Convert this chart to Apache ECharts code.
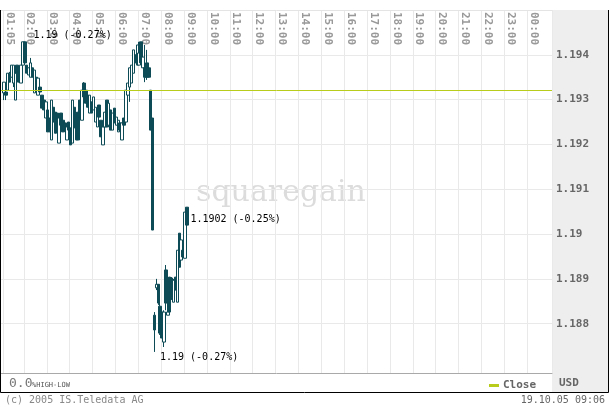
<!DOCTYPE html>
<html><head><meta charset="utf-8">
<script src="https://cdn.jsdelivr.net/npm/echarts@6/dist/echarts.min.js"></script>
<style>html,body{margin:0;padding:0;background:#fff}#c{width:610px;height:407px}</style>
</head><body><div id="c"></div>
<script>
// hour tick labels shown on the top axis
const hourLabels = ['01:05','02:00','03:00','04:00','05:00','06:00','07:00','08:00','09:00','10:00','11:00','12:00',
  '13:00','14:00','15:00','16:00','17:00','18:00','19:00','20:00','21:00','22:00','23:00','00:00'];
// price ticks on the right axis
const yTicks = [1.188, 1.189, 1.19, 1.191, 1.192, 1.193, 1.194];
const yMin = 1.1869, yMax = 1.195;
const prevClose = 1.1932;
// 5-minute candles [open, close, low, high] from 01:05 to 09:05
const candles = [
[1.19315,1.19339,1.19299,1.19339],
[1.19317,1.19310,1.19299,1.19317],
[1.19321,1.19359,1.19321,1.19359],
[1.19359,1.19339,1.19339,1.19362],
[1.19350,1.19377,1.19350,1.19377],
[1.19337,1.19377,1.19328,1.19377],
[1.19299,1.19359,1.19299,1.19359],
[1.19377,1.19359,1.19359,1.19377],
[1.19362,1.19339,1.19339,1.19362],
[1.19337,1.19377,1.19337,1.19377],
[1.19377,1.19429,1.19377,1.19429],
[1.19429,1.19382,1.19382,1.19429],
[1.19377,1.19359,1.19359,1.19377],
[1.19355,1.19371,1.19355,1.19371],
[1.19350,1.19382,1.19350,1.19393],
[1.19371,1.19350,1.19350,1.19371],
[1.19315,1.19366,1.19315,1.19366],
[1.19350,1.19328,1.19328,1.19350],
[1.19310,1.19348,1.19310,1.19348],
[1.19328,1.19317,1.19317,1.19328],
[1.19310,1.19281,1.19281,1.19310],
[1.19299,1.19277,1.19277,1.19299],
[1.19259,1.19295,1.19259,1.19295],
[1.19277,1.19228,1.19228,1.19277],
[1.19259,1.19228,1.19228,1.19259],
[1.19210,1.19299,1.19210,1.19299],
[1.19283,1.19250,1.19250,1.19283],
[1.19272,1.19225,1.19225,1.19272],
[1.19270,1.19232,1.19232,1.19270],
[1.19203,1.19259,1.19203,1.19259],
[1.19270,1.19243,1.19243,1.19270],
[1.19254,1.19228,1.19228,1.19254],
[1.19248,1.19232,1.19232,1.19248],
[1.19210,1.19239,1.19210,1.19239],
[1.19250,1.19232,1.19232,1.19250],
[1.19237,1.19199,1.19199,1.19237],
[1.19203,1.19299,1.19203,1.19299],
[1.19283,1.19237,1.19237,1.19283],
[1.19210,1.19270,1.19210,1.19270],
[1.19272,1.19210,1.19210,1.19272],
[1.19299,1.19261,1.19261,1.19299],
[1.19254,1.19321,1.19254,1.19321],
[1.19337,1.19306,1.19306,1.19339],
[1.19321,1.19292,1.19292,1.19321],
[1.19310,1.19283,1.19283,1.19310],
[1.19270,1.19310,1.19270,1.19310],
[1.19295,1.19270,1.19270,1.19295],
[1.19277,1.19306,1.19277,1.19306],
[1.19250,1.19283,1.19250,1.19283],
[1.19239,1.19277,1.19239,1.19277],
[1.19288,1.19261,1.19261,1.19288],
[1.19254,1.19217,1.19217,1.19254],
[1.19199,1.19239,1.19199,1.19239],
[1.19239,1.19272,1.19239,1.19272],
[1.19299,1.19239,1.19239,1.19299],
[1.19243,1.19292,1.19243,1.19292],
[1.19277,1.19232,1.19232,1.19277],
[1.19232,1.19270,1.19232,1.19270],
[1.19281,1.19248,1.19248,1.19281],
[1.19243,1.19261,1.19243,1.19261],
[1.19228,1.19254,1.19228,1.19254],
[1.19248,1.19232,1.19232,1.19248],
[1.19210,1.19248,1.19210,1.19248],
[1.19259,1.19243,1.19243,1.19259],
[1.19250,1.19321,1.19250,1.19321],
[1.19310,1.19337,1.19299,1.19337],
[1.19328,1.19371,1.19295,1.19371],
[1.19337,1.19377,1.19337,1.19377],
[1.19359,1.19411,1.19359,1.19411],
[1.19400,1.19382,1.19382,1.19400],
[1.19377,1.19422,1.19377,1.19422],
[1.19377,1.19404,1.19377,1.19429],
[1.19429,1.19382,1.19382,1.19429],
[1.19371,1.19395,1.19371,1.19395],
[1.19371,1.19350,1.19339,1.19422],
[1.19382,1.19350,1.19344,1.19411],
[1.19371,1.19350,1.19350,1.19371],
[1.19321,1.19232,1.19232,1.19321],
[1.19259,1.19009,1.19009,1.19259],
[1.18819,1.18786,1.18737,1.18826],
[1.18880,1.18888,1.18875,1.18900],
[1.18888,1.18846,1.18842,1.18888],
[1.18839,1.18779,1.18775,1.18853],
[1.18826,1.18768,1.18768,1.18830],
[1.18759,1.18826,1.18748,1.18830],
[1.18920,1.18846,1.18830,1.18931],
[1.18819,1.18826,1.18819,1.18848],
[1.18904,1.18826,1.18826,1.18904],
[1.18902,1.18859,1.18853,1.18904],
[1.18848,1.18897,1.18848,1.18900],
[1.18904,1.18875,1.18875,1.18904],
[1.18848,1.18964,1.18848,1.18964],
[1.19002,1.18926,1.18926,1.19002],
[1.18942,1.18987,1.18931,1.18987],
[1.18964,1.18949,1.18946,1.18964],
[1.18946,1.19049,1.18946,1.19049],
[1.19060,1.19020,1.19020,1.19060]
];
const markTexts = ['1.19 (-0.27%)', '1.19 (-0.27%)', '1.1902 (-0.25%)'];

// 5-minute slots from 01:00 to 01:00 next day
const slots = [];
for (let m = 60; m <= 60 + 1440; m += 5) {
  const mm = m % 1440;
  slots.push(String(Math.floor(mm / 60)).padStart(2, '0') + ':' + String(mm % 60).padStart(2, '0'));
}
const firstIdx = slots.indexOf('01:05');
const seriesData = slots.slice(0, firstIdx).map(() => '-').concat(candles);

let hiIdx = 0, loIdx = 0;
candles.forEach((c, i) => { if (c[3] > candles[hiIdx][3]) hiIdx = i; if (c[2] < candles[loIdx][2]) loIdx = i; });
const lastIdx = candles.length - 1;

const MONO = 'DejaVu Sans Mono';
const showTick = (idx, val) => hourLabels.indexOf(val) >= 0 && idx < slots.length - 1;
const teal = '#0d4b56';
const lime = '#b8cc1c';

const chart = echarts.init(document.getElementById('c'), null, {renderer: 'canvas'});
chart.setOption({
  animation: false,
  backgroundColor: '#ffffff',
  grid: {left: 1, right: 58, top: 10, bottom: 34, containLabel: false, outerBoundsMode: 'none'},
  legend: {
    data: ['Close'], left: 484, top: 375, icon: 'rect', itemWidth: 10, itemHeight: 3, itemGap: 4,
    textStyle: {fontFamily: MONO, fontSize: 11, fontWeight: 'bold', color: '#666', padding: [0,0,0,-1]}
  },
  xAxis: [{
    type: 'category', data: slots, position: 'top', boundaryGap: true,
    axisLine: {show: true, onZero: false, lineStyle: {color: '#e4e4e4'}},
    axisTick: {show: false},
    axisLabel: {inside: true, rotate: 90, interval: showTick, align: 'left', verticalAlign: 'bottom', margin: 2,
      color: '#999', fontFamily: MONO, fontSize: 11, fontWeight: 'bold'},
    splitLine: {show: true, interval: showTick, lineStyle: {color: '#e9e9e9', width: 1}}
  }, {
    type: 'category', data: slots, position: 'bottom', boundaryGap: true,
    axisLine: {show: true, onZero: false, lineStyle: {color: '#a9a9a9'}},
    axisTick: {show: false}, axisLabel: {show: false}, splitLine: {show: false}
  }],
  yAxis: {
    type: 'value', position: 'right', min: yMin, max: yMax,
    axisLine: {show: false},
    axisTick: {show: false, customValues: yTicks},
    axisLabel: {customValues: yTicks, formatter: v => String(parseFloat(v.toFixed(3))), margin: 4,
      color: '#666', fontFamily: MONO, fontSize: 11, fontWeight: 'bold', padding: [7,0,0,0]},
    splitLine: {show: true, lineStyle: {color: '#e9e9e9', width: 1}}
  },
  series: [{
    type: 'candlestick', name: 'Price', xAxisIndex: 0, yAxisIndex: 0,
    data: seriesData, barWidth: 3,
    itemStyle: {color: '#ffffff', color0: teal, borderColor: teal, borderColor0: teal, borderWidth: 1},
    markLine: {
      silent: true, precision: 5, symbol: ['none', 'none'], label: {show: false},
      lineStyle: {color: lime, width: 1, type: 'solid'},
      data: [{yAxis: prevClose}]
    },
    markPoint: {
      symbol: 'circle', symbolSize: 1, itemStyle: {color: 'rgba(0,0,0,0)'},
      label: {show: true, position: 'right', distance: 0, color: '#000', fontFamily: MONO, fontSize: 10},
      data: [
        {coord: [firstIdx + hiIdx, candles[hiIdx][3]], label: {formatter: markTexts[0], offset: [10, -6]}},
        {coord: [firstIdx + loIdx, candles[loIdx][2]], label: {formatter: markTexts[1], offset: [5, 5]}},
        {coord: [firstIdx + lastIdx, candles[lastIdx][1]], label: {formatter: markTexts[2], offset: [3, -6]}}
      ]
    }
  }, {
    type: 'line', name: 'Close', data: [], color: lime, xAxisIndex: 0, yAxisIndex: 0
  }],
  graphic: [
    {type: 'rect', z: -10, shape: {x: 552, y: 10, width: 57, height: 383}, style: {fill: '#eeeeee'}},
    {type: 'text', z: -5, left: 196, top: 178, style: {text: 'squaregain', font: '30px "DejaVu Serif"', fill: '#dcdcdc'}},
    {type: 'polyline', z: 50, shape: {points: [[0.5, 10], [0.5, 392.5], [608.5, 392.5], [608.5, 10]]}, style: {stroke: '#000', lineWidth: 1, fill: null}},
    {type: 'text', left: 9, top: 377, style: {text: '0.0', font: '13px "DejaVu Sans Mono"', fill: '#777'}},
    {type: 'text', left: 32, top: 382, style: {text: '%HIGH-LOW', font: '7px "DejaVu Sans Mono"', fill: '#555'}},
    {type: 'text', left: 559, top: 378, style: {text: 'USD', font: 'bold 11px "DejaVu Sans Mono"', fill: '#666'}},
    {type: 'text', left: 5, top: 395, style: {text: '(c) 2005 IS.Teledata AG', font: '10px "DejaVu Sans Mono"', fill: '#888'}},
    {type: 'text', right: 5, top: 395, style: {text: '19.10.05 09:06', font: '10px "DejaVu Sans Mono"', fill: '#666'}}
  ]
});
</script></body></html>
